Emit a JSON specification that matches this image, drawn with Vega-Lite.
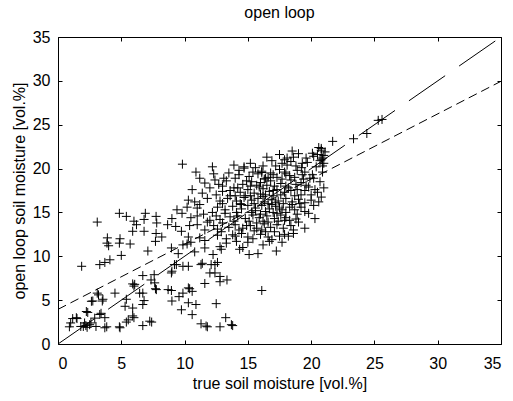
{
  "$schema": "https://vega.github.io/schema/vega-lite/v6.json",
  "width": 443,
  "height": 307,
  "autosize": "none",
  "padding": {"left": 58, "top": 37, "right": 12, "bottom": 57},
  "background": "white",
  "title": {"text": "open loop", "font": "Liberation Sans", "fontSize": 16, "fontWeight": "normal", "color": "#000", "offset": 8},
  "config": {
    "view": {"stroke": "#000", "strokeWidth": 1},
    "axis": {
      "domain": false, "grid": false, "tickSize": -4, "tickColor": "#000", "tickWidth": 1,
      "labelFont": "Liberation Sans", "labelFontSize": 16, "labelColor": "#000",
      "titleFont": "Liberation Sans", "titleFontSize": 16, "titleFontWeight": "normal", "titleColor": "#000"
    }
  },
  "datasets": {
    "pts": [
      {"x":3.87,"y":11.5},{"x":4.0,"y":11.2},{"x":4.85,"y":11.5},{"x":5.7,"y":11.4},{"x":7.7,"y":11.7},{"x":7.1,"y":10.6},{"x":5.0,"y":10.1},{"x":4.1,"y":9.6},{"x":3.7,"y":9.3},{"x":3.3,"y":9.05},{"x":1.87,"y":8.86},{"x":6.7,"y":7.8},{"x":7.6,"y":7.9},{"x":7.35,"y":7.3},{"x":7.7,"y":6.3},{"x":5.9,"y":6.85},{"x":6.0,"y":6.6},{"x":3.1,"y":5.8},{"x":4.5,"y":5.8},{"x":6.7,"y":5.8},{"x":6.8,"y":4.95},{"x":2.75,"y":4.9},{"x":3.5,"y":4.9},{"x":5.4,"y":5.1},{"x":5.3,"y":4.3},{"x":5.9,"y":4.1},{"x":6.0,"y":3.0},{"x":5.4,"y":2.5},{"x":4.85,"y":1.96},{"x":6.7,"y":2.1},{"x":7.4,"y":2.5},{"x":3.4,"y":3.5},{"x":2.35,"y":3.6},{"x":1.16,"y":2.9},{"x":1.5,"y":2.9},{"x":2.9,"y":2.95},{"x":0.9,"y":1.96},{"x":2.0,"y":2.0},{"x":2.2,"y":2.1},{"x":2.3,"y":1.9},{"x":2.5,"y":2.2},{"x":2.1,"y":2.4},{"x":1.8,"y":2.0},{"x":3.0,"y":2.0},{"x":3.85,"y":1.96},{"x":2.6,"y":2.4},{"x":1.0,"y":2.4},{"x":3.2,"y":5.6},{"x":6.45,"y":5.8},{"x":6.06,"y":6.8},{"x":6.7,"y":4.5},{"x":7.25,"y":2.6},{"x":5.55,"y":2.75},{"x":5.9,"y":3.2},{"x":3.55,"y":5.1},{"x":2.64,"y":4.87},{"x":3.3,"y":3.36},{"x":2.24,"y":3.7},{"x":1.45,"y":3.0},{"x":3.7,"y":1.85},{"x":3.7,"y":3.0},{"x":4.9,"y":1.85},{"x":7.77,"y":6.2},{"x":7.64,"y":6.97},
      {"x":9.87,"y":11.3},{"x":10.2,"y":11.4},{"x":10.5,"y":11.6},{"x":8.96,"y":10.95},{"x":11.6,"y":10.95},{"x":12.25,"y":10.2},{"x":12.9,"y":10.8},{"x":14.1,"y":11.7},{"x":14.35,"y":10.8},{"x":15.1,"y":10.2},{"x":15.8,"y":10.3},{"x":16.2,"y":11.3},{"x":16.7,"y":11.7},{"x":17.25,"y":10.6},{"x":9.0,"y":8.3},{"x":9.2,"y":9.05},{"x":9.87,"y":8.86},{"x":10.3,"y":8.86},{"x":11.3,"y":9.05},{"x":11.4,"y":9.2},{"x":12.4,"y":9.05},{"x":12.6,"y":9.3},{"x":12.0,"y":8.1},{"x":12.8,"y":7.7},{"x":12.8,"y":7.1},{"x":13.35,"y":7.3},{"x":11.6,"y":6.9},{"x":16.1,"y":6.1},{"x":8.96,"y":6.1},{"x":9.87,"y":5.8},{"x":10.4,"y":6.3},{"x":10.6,"y":6.0},{"x":9.56,"y":5.4},{"x":9.0,"y":4.9},{"x":10.9,"y":4.5},{"x":12.5,"y":4.6},{"x":9.75,"y":3.9},{"x":10.6,"y":3.35},{"x":13.25,"y":3.0},{"x":11.3,"y":2.3},{"x":11.8,"y":1.96},{"x":12.8,"y":1.96},{"x":13.8,"y":2.1},{"x":8.7,"y":6.2},{"x":8.96,"y":8.1},{"x":9.35,"y":9.05},{"x":12.1,"y":9.05},{"x":10.3,"y":6.4},{"x":10.3,"y":4.7},{"x":11.7,"y":2.05},{"x":13.7,"y":2.2},{"x":12.4,"y":8.1},
      {"x":3.1,"y":13.9},{"x":4.85,"y":14.9},{"x":5.4,"y":14.55},{"x":6.0,"y":14.0},{"x":6.9,"y":14.9},{"x":6.8,"y":14.2},{"x":7.75,"y":14.55},{"x":7.8,"y":13.8},{"x":5.9,"y":12.85},{"x":6.8,"y":12.85},{"x":7.75,"y":12.6},{"x":8.66,"y":13.6},{"x":3.9,"y":12.1},{"x":4.9,"y":12.0},{"x":6.2,"y":13.6},{"x":8.2,"y":12.2},
      {"x":25.3,"y":25.5},{"x":25.6,"y":25.6},{"x":24.4,"y":24.0},{"x":23.35,"y":23.4},{"x":21.7,"y":23.1},{"x":20.8,"y":22.3},
      {"x":9.83,"y":20.5},{"x":13.9,"y":20.4},{"x":14.7,"y":20.2},{"x":16.1,"y":19.55},
      {"x":17.9,"y":21.0},{"x":18.1,"y":21.2},{"x":18.1,"y":20.4},{"x":18.6,"y":21.3},{"x":19.6,"y":21.2},{"x":20.1,"y":21.75},{"x":20.2,"y":21.4},{"x":20.8,"y":22.1},{"x":20.9,"y":21.2},{"x":21.0,"y":21.5},{"x":21.0,"y":20.6},{"x":20.8,"y":21.0},{"x":20.4,"y":20.2},{"x":19.25,"y":20.1},{"x":20.7,"y":20.9},{"x":20.5,"y":21.6},{"x":17.5,"y":21.6},{"x":16.9,"y":20.9},{"x":18.5,"y":22.0},{"x":19.0,"y":21.7},{"x":19.3,"y":20.6},{"x":17.2,"y":20.3},{"x":16.5,"y":21.3},{"x":15.2,"y":20.6},{"x":14.7,"y":20.05},{"x":18.8,"y":20.3},{"x":20.9,"y":20.3},{"x":21.1,"y":21.9},{"x":20.6,"y":22.4},
      {"x":16.1,"y":19.7},{"x":17.0,"y":19.3},{"x":15.1,"y":19.1},{"x":17.9,"y":19.6},{"x":19.5,"y":19.6},{"x":18.3,"y":19.2},{"x":16.6,"y":19.0},{"x":15.8,"y":19.4},{"x":14.3,"y":19.3},{"x":18.9,"y":19.8},{"x":20.1,"y":19.3},{"x":13.5,"y":19.5},{"x":17.5,"y":19.9},{"x":16.3,"y":18.8},{"x":19.9,"y":18.9},{"x":12.3,"y":19.4},
      {"x":11.6,"y":18.35},{"x":12.4,"y":18.7},{"x":20.7,"y":18.5},{"x":13.3,"y":18.6},{"x":14.6,"y":18.2},{"x":15.3,"y":18.5},{"x":16.0,"y":18.4},{"x":16.8,"y":18.6},{"x":17.6,"y":18.3},{"x":18.4,"y":18.7},{"x":19.2,"y":18.4},{"x":19.6,"y":18.1},{"x":14.0,"y":18.9},{"x":15.7,"y":18.1},{"x":17.1,"y":18.0},{"x":18.0,"y":18.0},{"x":18.8,"y":18.2},{"x":13.0,"y":18.0},{"x":12.0,"y":17.8},{"x":13.9,"y":17.8},
      {"x":13.0,"y":17.4},{"x":14.4,"y":17.3},{"x":15.0,"y":17.6},{"x":15.5,"y":17.2},{"x":16.2,"y":17.7},{"x":16.7,"y":17.4},{"x":17.3,"y":17.6},{"x":17.9,"y":17.3},{"x":18.4,"y":17.5},{"x":19.5,"y":17.5},{"x":20.3,"y":17.6},{"x":16.0,"y":17.1},{"x":15.2,"y":16.9},{"x":17.0,"y":16.9},{"x":18.7,"y":16.9},{"x":19.2,"y":17.0},{"x":14.0,"y":16.9},{"x":12.5,"y":17.0},{"x":11.4,"y":17.2},{"x":13.6,"y":17.5},{"x":16.4,"y":17.0},{"x":17.6,"y":17.0},
      {"x":20.8,"y":16.75},{"x":20.0,"y":16.4},{"x":10.3,"y":16.4},{"x":10.8,"y":16.2},{"x":11.8,"y":16.6},{"x":12.8,"y":16.3},{"x":13.4,"y":16.6},{"x":14.1,"y":16.3},{"x":14.7,"y":16.7},{"x":15.3,"y":16.4},{"x":15.8,"y":16.6},{"x":16.3,"y":16.2},{"x":16.9,"y":16.5},{"x":17.4,"y":16.3},{"x":18.0,"y":16.6},{"x":18.5,"y":16.2},{"x":19.0,"y":16.5},{"x":19.5,"y":16.1},{"x":15.5,"y":16.0},{"x":16.6,"y":16.0},{"x":17.8,"y":16.0},{"x":14.4,"y":16.0},{"x":13.0,"y":16.0},{"x":11.2,"y":15.9},
      {"x":9.4,"y":15.3},{"x":12.6,"y":15.6},{"x":11.0,"y":15.5},{"x":13.2,"y":15.3},{"x":13.8,"y":15.7},{"x":14.5,"y":15.4},{"x":15.0,"y":15.8},{"x":15.6,"y":15.5},{"x":16.1,"y":15.8},{"x":16.7,"y":15.4},{"x":17.2,"y":15.7},{"x":17.7,"y":15.3},{"x":18.3,"y":15.6},{"x":18.7,"y":15.3},{"x":19.2,"y":15.6},{"x":19.5,"y":15.1},{"x":14.1,"y":15.0},{"x":15.3,"y":15.0},{"x":16.4,"y":15.1},{"x":17.0,"y":15.0},{"x":18.0,"y":15.0},{"x":12.2,"y":15.0},{"x":10.2,"y":15.6},
      {"x":9.0,"y":14.3},{"x":10.5,"y":14.4},{"x":11.5,"y":14.8},{"x":13.6,"y":14.5},{"x":12.8,"y":14.2},{"x":14.2,"y":14.6},{"x":14.8,"y":14.3},{"x":15.4,"y":14.7},{"x":15.9,"y":14.4},{"x":16.5,"y":14.6},{"x":17.1,"y":14.3},{"x":17.6,"y":14.7},{"x":18.0,"y":14.4},{"x":18.8,"y":14.25},{"x":16.2,"y":14.0},{"x":15.1,"y":14.0},{"x":13.9,"y":14.0},{"x":12.0,"y":14.1},{"x":17.4,"y":14.0},
      {"x":11.0,"y":13.6},{"x":12.3,"y":13.5},{"x":13.0,"y":13.8},{"x":13.5,"y":13.3},{"x":14.0,"y":13.6},{"x":14.6,"y":13.2},{"x":15.2,"y":13.5},{"x":15.7,"y":13.2},{"x":16.3,"y":13.7},{"x":16.8,"y":13.3},{"x":17.3,"y":13.6},{"x":17.8,"y":13.2},{"x":18.4,"y":13.5},{"x":14.3,"y":13.0},{"x":15.5,"y":12.9},{"x":10.4,"y":13.5},{"x":12.6,"y":13.1},
      {"x":9.75,"y":12.85},{"x":10.3,"y":12.2},{"x":11.6,"y":13.0},{"x":12.6,"y":12.4},{"x":13.8,"y":12.45},{"x":14.5,"y":12.6},{"x":15.0,"y":12.2},{"x":16.0,"y":12.5},{"x":16.6,"y":12.2},{"x":17.5,"y":12.3},{"x":18.2,"y":12.3},{"x":17.9,"y":12.5},{"x":13.3,"y":12.0},{"x":11.2,"y":12.1},{"x":15.4,"y":12.0},
      {"x":12.8,"y":11.1},{"x":16.9,"y":11.9},{"x":13.3,"y":11.5},{"x":11.6,"y":11.8},{"x":15.0,"y":11.6},{"x":14.6,"y":11.0},{"x":10.8,"y":10.5},{"x":9.5,"y":10.3},
      {"x":14.8,"y":16.9},{"x":15.9,"y":17.9},{"x":16.5,"y":18.1},{"x":17.7,"y":18.8},{"x":18.2,"y":17.8},{"x":18.9,"y":17.6},{"x":19.4,"y":18.8},{"x":16.2,"y":16.8},{"x":17.2,"y":16.1},{"x":15.6,"y":15.2},{"x":16.9,"y":15.9},{"x":17.5,"y":15.5},{"x":18.5,"y":15.9},{"x":18.9,"y":14.8},{"x":17.9,"y":14.1},{"x":16.6,"y":13.9},{"x":15.7,"y":13.8},{"x":14.9,"y":13.5},{"x":16.1,"y":13.0},{"x":17.1,"y":12.8},{"x":18.6,"y":13.0},{"x":19.0,"y":13.9},{"x":19.8,"y":14.9},{"x":20.2,"y":15.8},{"x":20.5,"y":17.3},{"x":19.8,"y":17.9},{"x":20.2,"y":18.9},{"x":19.3,"y":19.3},{"x":18.0,"y":19.4},{"x":17.3,"y":19.0},{"x":15.4,"y":19.6},{"x":14.9,"y":18.6},{"x":14.2,"y":17.8},{"x":13.6,"y":16.9},{"x":13.2,"y":14.9},{"x":12.5,"y":14.6},{"x":11.8,"y":13.9},{"x":12.9,"y":12.8},{"x":14.0,"y":12.3},{"x":16.4,"y":12.8},{"x":17.7,"y":11.6},{"x":18.6,"y":12.6},{"x":19.5,"y":13.2},{"x":20.3,"y":14.3},{"x":20.6,"y":16.2},{"x":21.0,"y":17.8},{"x":20.9,"y":19.6},{"x":19.7,"y":20.7},{"x":18.4,"y":20.8},{"x":17.7,"y":20.6},{"x":16.2,"y":20.3},{"x":15.6,"y":20.1},{"x":14.3,"y":19.8},{"x":13.1,"y":18.9},{"x":12.7,"y":18.2},{"x":11.2,"y":18.9},{"x":10.6,"y":17.6},{"x":10.9,"y":19.6},{"x":12.2,"y":20.2},{"x":11.0,"y":14.6},{"x":9.8,"y":14.9},{"x":9.3,"y":13.4},{"x":16.8,"y":19.5},{"x":18.7,"y":19.0},{"x":15.2,"y":18.0},{"x":14.5,"y":15.9},{"x":16.0,"y":14.8},{"x":17.3,"y":14.9},{"x":18.3,"y":14.1},{"x":19.1,"y":16.0},{"x":20.0,"y":17.0},{"x":17.0,"y":17.5},{"x":16.4,"y":18.9}
    ],
    "oneone": [{"x":0,"y":0},{"x":35,"y":35}],
    "fit": [{"x":0,"y":3.95},{"x":35,"y":29.95}]
  },
  "layer": [
    {
      "data": {"name": "pts"},
      "mark": {"type": "point", "shape": "M-1,0H1M0,-1V1", "size": 81, "filled": false, "stroke": "#000", "strokeWidth": 1, "opacity": 1},
      "encoding": {
        "x": {"field": "x", "type": "quantitative", "scale": {"domain": [0, 35], "nice": false, "zero": false},
              "axis": {"orient": "bottom", "values": [0,5,10,15,20,25,30,35], "title": "true soil moisture [vol.%]", "labelPadding": 15, "titlePadding": 4}},
        "y": {"field": "y", "type": "quantitative", "scale": {"domain": [0, 35], "nice": false, "zero": false},
              "axis": {"orient": "left", "values": [0,5,10,15,20,25,30,35], "title": "open loop soil moisture [vol.%]", "labelPadding": 12, "titlePadding": 5}}
      }
    },
    {
      "data": {"name": "oneone"},
      "mark": {"type": "line", "stroke": "#000", "strokeWidth": 1, "strokeDash": [44, 17], "clip": true},
      "encoding": {
        "x": {"field": "x", "type": "quantitative", "axis": null},
        "y": {"field": "y", "type": "quantitative", "axis": null}
      }
    },
    {
      "data": {"name": "fit"},
      "mark": {"type": "line", "stroke": "#000", "strokeWidth": 1, "strokeDash": [9, 5], "clip": true},
      "encoding": {
        "x": {"field": "x", "type": "quantitative", "axis": null},
        "y": {"field": "y", "type": "quantitative", "axis": null}
      }
    },
    {
      "data": {"name": "oneone"},
      "mark": {"type": "line", "opacity": 0},
      "encoding": {
        "x": {"field": "x", "type": "quantitative", "axis": {"orient": "top", "values": [0,5,10,15,20,25,30,35], "labels": false, "title": null}},
        "y": {"field": "y", "type": "quantitative", "axis": {"orient": "right", "values": [0,5,10,15,20,25,30,35], "labels": false, "title": null}}
      }
    }
  ],
  "resolve": {"axis": {"x": "independent", "y": "independent"}}
}
